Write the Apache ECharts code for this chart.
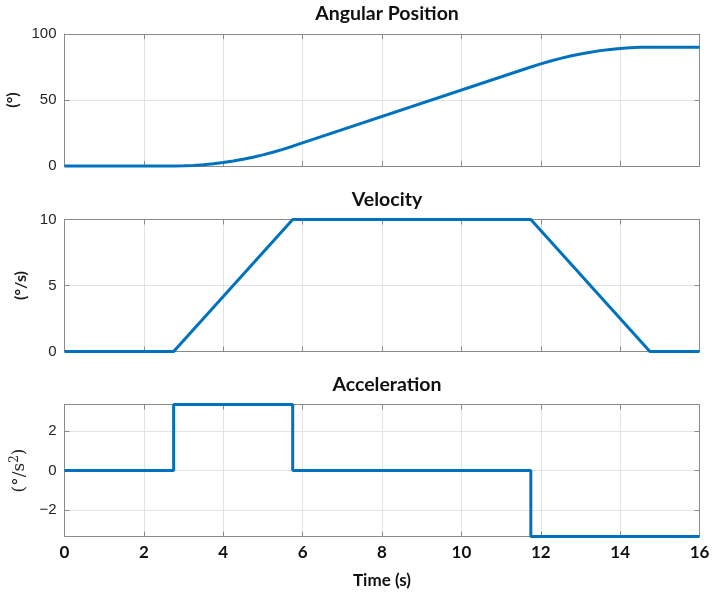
<!DOCTYPE html>
<html>
<head>
<meta charset="utf-8">
<script src="https://cdn.jsdelivr.net/npm/echarts@6/dist/echarts.min.js"></script>
<style>html,body{margin:0;padding:0;background:#fff}#c{width:723px;height:598px}</style>
</head>
<body>
<div id="c"></div>
<script>
// ---- data ----
const posT = [0, 2.75, 3.0, 3.25, 3.5, 3.75, 4.0, 4.25, 4.5, 4.75, 5.0, 5.25, 5.5, 5.75, 11.75, 12.0, 12.25, 12.5, 12.75, 13.0, 13.25, 13.5, 13.75, 14.0, 14.25, 14.5, 14.75, 16];
const posV = [0, 0, 0.1, 0.42, 0.94, 1.67, 2.6, 3.75, 5.1, 6.67, 8.44, 10.42, 12.6, 15, 75, 77.4, 79.58, 81.56, 83.33, 84.9, 86.25, 87.4, 88.33, 89.06, 89.58, 89.9, 90, 90];
const velT = [0, 2.75, 5.75, 11.75, 14.75, 16];
const velV = [0, 0, 10, 10, 0, 0];
const accT = [0, 2.75, 2.75, 5.75, 5.75, 11.75, 11.75, 16];
const accV = [0, 0, 3.333, 3.333, 0, 0, -3.333, -3.333];
const titles = ['Angular Position', 'Velocity', 'Acceleration'];
const xTicks = [0, 2, 4, 6, 8, 10, 12, 14, 16];
const accTicks = [-2, 0, 2];
const accLim = 3.333;

const zip = (a, b) => a.map((v, i) => [v, b[i]]);
const LEFT = 64.5, RIGHT = 23.5, H = 132;
const tops = [34, 219.5, 404.5];
const AXC = '#8a8a8a', GRIDC = '#e3e3e3', TXT = '#262626', BLUE = '#0072BD';

const grids = tops.map(t => ({ left: LEFT, right: RIGHT, top: t, height: H, containLabel: false, outerBoundsMode: 'none' }));

const xAxes = [], yAxes = [];
for (let g = 0; g < 3; g++) {
  xAxes.push({
    type: 'value', gridIndex: g, min: 0, max: 16, interval: 2, position: 'bottom',
    axisLine: { show: true, onZero: false, lineStyle: { color: AXC, width: 1 } },
    axisTick: { show: true, inside: true, length: 5, lineStyle: { color: AXC } },
    splitLine: { show: true, lineStyle: { color: GRIDC, width: 1 } },
    axisLabel: { show: g === 2, color: '#111', fontFamily: 'Lato', fontWeight: 'bold', fontSize: 17, margin: 8 },
    name: g === 2 ? 'Time (s)' : '', nameLocation: 'middle', nameGap: 36,
    nameTextStyle: { color: '#111', fontFamily: 'Lato', fontWeight: 'bold', fontSize: 17 }
  });
  xAxes.push({
    type: 'value', gridIndex: g, min: 0, max: 16, interval: 2, position: 'top',
    axisLine: { show: true, onZero: false, lineStyle: { color: AXC, width: 1 } },
    axisTick: { show: true, inside: true, length: 5, lineStyle: { color: AXC } },
    splitLine: { show: false }, axisLabel: { show: false }
  });
}
const yCfg = [
  { min: 0, max: 100, interval: 50, name: '(°)', rich: false, gap: 36 },
  { min: 0, max: 10, interval: 5, name: '(°/s)', rich: false, gap: 34 },
  { min: -accLim, max: accLim, custom: accTicks, name: '{a|(°/s}{s|2}{a|)}', rich: true, gap: 34 }
];
yCfg.forEach((c, g) => {
  const tick = { show: true, inside: true, length: 5, lineStyle: { color: AXC } };
  const lab = { show: true, color: TXT, fontFamily: 'Liberation Sans', fontSize: 15, margin: 8,
    formatter: v => String(v).replace('-', '\u2212') };
  if (c.custom) { tick.customValues = c.custom; lab.customValues = c.custom; }
  const nts = c.rich
    ? { rich: { a: { fontFamily: 'DejaVu Serif', fontSize: 17, color: TXT }, s: { fontFamily: 'DejaVu Serif', fontSize: 12, color: TXT, verticalAlign: 'top', padding: [0, 0, 10, 0] } } }
    : { color: '#1a1a1a', fontFamily: 'Lato', fontWeight: 'bold', fontSize: 16 };
  yAxes.push({
    type: 'value', gridIndex: g, min: c.min, max: c.max, interval: c.interval, position: 'left',
    axisLine: { show: true, onZero: false, lineStyle: { color: AXC, width: 1 } },
    axisTick: tick, splitLine: { show: true, lineStyle: { color: GRIDC, width: 1 } },
    axisLabel: lab,
    name: c.name, nameLocation: 'middle', nameGap: c.gap, nameRotate: 90, nameTextStyle: nts
  });
  const tick2 = Object.assign({}, tick);
  yAxes.push({
    type: 'value', gridIndex: g, min: c.min, max: c.max, interval: c.interval, position: 'right',
    axisLine: { show: true, onZero: false, lineStyle: { color: AXC, width: 1 } },
    axisTick: tick2, splitLine: { show: false }, axisLabel: { show: false }
  });
});

const lineSeries = (data, g) => ({
  type: 'line', xAxisIndex: g * 2, yAxisIndex: g * 2, data, showSymbol: false, symbol: 'none',
  lineStyle: { color: BLUE, width: 3 }, clip: false, animation: false
});

const chart = echarts.init(document.getElementById('c'));
chart.setOption({
  animation: false,
  backgroundColor: '#fff',
  title: titles.map((t, i) => ({
    text: t, left: LEFT + (723 - LEFT - RIGHT) / 2, top: tops[i] - 35, textAlign: 'center',
    textStyle: { fontFamily: 'Lato', fontWeight: 'bold', fontSize: 19.5, color: '#111' }
  })),
  grid: grids,
  xAxis: xAxes,
  yAxis: yAxes,
  series: [lineSeries(zip(posT, posV), 0), lineSeries(zip(velT, velV), 1), lineSeries(zip(accT, accV), 2)]
});
</script>
</body>
</html>
